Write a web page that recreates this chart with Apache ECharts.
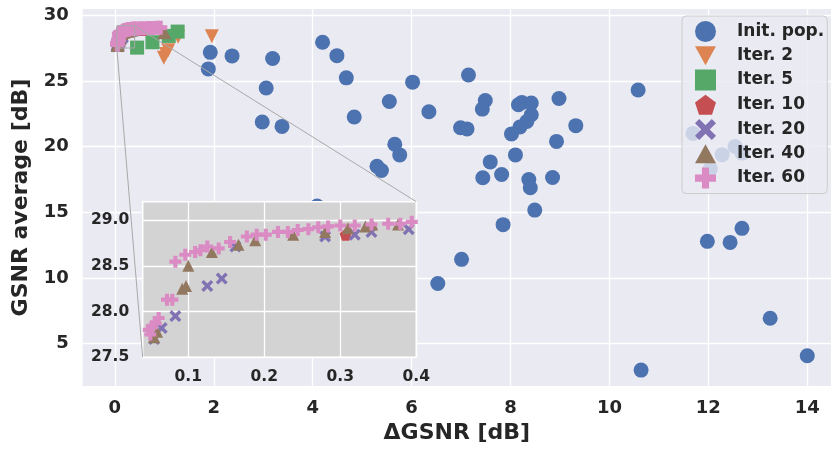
<!DOCTYPE html>
<html>
<head>
<meta charset="utf-8">
<script src="https://cdn.jsdelivr.net/npm/echarts@6/dist/echarts.min.js"></script>
<style>
  html, body { margin: 0; padding: 0; background: #fff; }
  #chart { width: 831px; height: 449px; }
</style>
</head>
<body>
<div id="chart"></div>
<script>
// data [ΔGSNR, GSNR average] ---------------------------------------
const initPop = [
    [1.93, 27.17], [1.89, 25.91], [2.37, 26.9], [3.19, 26.7], [3.06, 24.45], [2.98, 21.87], [3.38, 21.53],
    [4.20, 27.94], [4.49, 26.92], [4.68, 25.23], [6.02, 24.9], [7.15, 25.44], [5.55, 23.43], [4.84, 22.25],
    [6.35, 22.65], [7.49, 23.5], [7.43, 22.85], [6.99, 21.43], [7.12, 21.34], [8.23, 23.36], [8.42, 23.31],
    [8.16, 23.18], [8.42, 22.42], [8.33, 21.91], [8.19, 21.49], [8.02, 20.96], [8.98, 23.66], [9.32, 21.59],
    [8.93, 20.39], [8.10, 19.36], [7.59, 18.83], [7.44, 17.62], [7.82, 17.87], [8.37, 17.49], [8.40, 16.86],
    [8.85, 17.64], [8.49, 15.16], [7.85, 14.05], [7.01, 11.41], [6.53, 9.57], [5.66, 20.17], [5.76, 19.36],
    [5.30, 18.5], [5.39, 18.17], [4.09, 15.47], [10.58, 24.3], [10.64, 2.98], [11.98, 12.78], [12.44, 12.7],
    [12.68, 13.77], [13.25, 6.93], [14.0, 4.07], [11.69, 21.0], [12.28, 19.38], [12.54, 20.0], [12.68, 19.5],
    [12.04, 18.3]
];
const iter2 = [[1.96, 28.4], [1.28, 28.35], [1.08, 27.33], [1.03, 27.05], [0.99, 26.75]];
const iter5 = [[1.27, 28.75], [1.09, 28.42], [0.76, 27.94], [0.45, 27.53]];
const iter10 = [[0.307, 28.84], [0.55, 28.95]];
const iter20 = [
    [0.055, 27.7], [0.065, 27.82], [0.083, 27.95], [0.125, 28.28], [0.144, 28.36], [0.162, 28.71],
    [0.28, 28.82], [0.319, 28.84], [0.341, 28.87], [0.39, 28.9]
];
const iter40 = [
    [0.055, 27.72], [0.059, 27.78], [0.092, 28.25], [0.097, 28.28], [0.10, 28.5], [0.131, 28.65],
    [0.166, 28.73], [0.188, 28.78], [0.238, 28.84], [0.28, 28.87], [0.31, 28.91], [0.333, 28.93],
    [0.342, 28.95], [0.376, 28.95], [1.0, 28.7]
];
const iter60 = [
    [0.048, 27.8], [0.05, 27.75], [0.052, 27.84], [0.057, 27.87], [0.061, 27.93], [0.072, 28.13],
    [0.079, 28.13], [0.083, 28.545], [0.096, 28.62], [0.109, 28.65], [0.116, 28.67], [0.125, 28.71],
    [0.14, 28.69], [0.155, 28.76], [0.177, 28.82], [0.19, 28.84], [0.202, 28.84], [0.218, 28.87],
    [0.231, 28.87], [0.244, 28.89], [0.258, 28.9], [0.271, 28.92], [0.284, 28.93], [0.30, 28.94],
    [0.319, 28.94], [0.341, 28.95], [0.363, 28.96], [0.379, 28.96], [0.394, 28.98],
    [0.45, 28.98], [0.52, 29.0], [0.6, 29.0], [0.68, 29.02], [0.76, 29.03], [0.85, 29.04], [0.92, 29.05]
];

const seriesNames = ['Init. pop.', 'Iter. 2', 'Iter. 5', 'Iter. 10', 'Iter. 20', 'Iter. 40', 'Iter. 60'];
const seriesData = [initPop, iter2, iter5, iter10, iter20, iter40, iter60];
const colors = ['#4C72B0', '#DD8452', '#55A868', '#C44E52', '#8172B3', '#937860', '#DA8BC3'];
const symbols = [
    'circle',
    'path://M0,0L100,0L50,90Z',
    'rect',
    'path://M50,0L97.6,34.5L79.4,90.5L20.6,90.5L2.4,34.5Z',
    'path://M20,0L50,30L80,0L100,20L70,50L100,80L80,100L50,70L20,100L0,80L30,50L0,20Z',
    'path://M50,0L100,90L0,90Z',
    'path://M33,0H67V33H100V67H67V100H33V67H0V33H33Z'
];

const mainXTicks = [0, 2, 4, 6, 8, 10, 12, 14];
const mainYTicks = [5, 10, 15, 20, 25, 30];
const insetXTicks = [0.1, 0.2, 0.3, 0.4];
const insetYTicks = [27.5, 28.0, 28.5, 29.0];
const insetXRange = [0.04, 0.4];
const insetYRange = [27.5, 29.2];

const font = 'DejaVu Sans';
const ink = '#262626';

const chart = echarts.init(document.getElementById('chart'));

const axisCommon = (ticks, fontSize, margin, fmt) => ({
    axisLine: {show: false},
    axisTick: {show: false, customValues: ticks},
    axisLabel: {
        customValues: ticks, color: ink, fontFamily: font, fontWeight: 'bold',
        fontSize: fontSize, margin: margin, formatter: fmt
    },
    splitLine: {show: true, lineStyle: {color: '#ffffff', width: 1.3}}
});

const series = [];
seriesData.forEach((data, i) => {
    series.push({
        name: seriesNames[i], type: 'scatter', xAxisIndex: 0, yAxisIndex: 0,
        data: data, symbol: symbols[i], symbolSize: i === 0 ? 15 : 14,
        itemStyle: {color: colors[i], opacity: 1}, z: 2, animation: false
    });
});
// inset lives on its own layer so it covers the main markers
seriesData.forEach((data, i) => {
    if (i === 0) return;
    series.push({
        name: seriesNames[i], type: 'scatter', xAxisIndex: 1, yAxisIndex: 1,
        data: data, symbol: symbols[i], symbolSize: 12,
        itemStyle: {color: colors[i], opacity: 1}, zlevel: 1, z: 3, clip: true, animation: false
    });
});

chart.setOption({
    animation: false,
    textStyle: {fontFamily: font},
    grid: [
        {left: 82.7, top: 9, right: 0, bottom: 62, show: true, backgroundColor: '#EAEAF2', borderWidth: 0},
        {left: 142.7, top: 201.7, width: 273.6, height: 155.6, show: true, backgroundColor: '#D3D3D3',
            borderColor: '#ffffff', borderWidth: 1.5, zlevel: 1, z: 0}
    ],
    xAxis: [
        Object.assign({
            gridIndex: 0, type: 'value', min: -0.65, max: 14.48,
            name: 'ΔGSNR [dB]', nameLocation: 'middle', nameGap: 35,
            nameTextStyle: {color: ink, fontFamily: font, fontWeight: 'bold', fontSize: 22}
        }, axisCommon(mainXTicks, 18, 13, v => String(v))),
        Object.assign({
            gridIndex: 1, type: 'value', min: insetXRange[0], max: insetXRange[1], zlevel: 1, z: 1
        }, axisCommon(insetXTicks, 15.5, 12, v => v.toFixed(1)))
    ],
    yAxis: [
        Object.assign({
            gridIndex: 0, type: 'value', min: 1.76, max: 30.47,
            name: 'GSNR average [dB]', nameLocation: 'middle', nameGap: 47,
            nameTextStyle: {color: ink, fontFamily: font, fontWeight: 'bold', fontSize: 22}
        }, axisCommon(mainYTicks, 18, 14, v => String(v))),
        Object.assign({
            gridIndex: 1, type: 'value', min: insetYRange[0], max: insetYRange[1], zlevel: 1, z: 1
        }, axisCommon(insetYTicks, 15.5, 13.5, v => v.toFixed(1)))
    ],
    legend: {
        orient: 'vertical', left: 682, top: 16,
        itemWidth: 21, itemHeight: 21, itemGap: 4.3,
        padding: [5, 3, 5, 13],
        backgroundColor: 'rgba(234,234,242,0.8)', borderColor: '#cccccc', borderWidth: 1, borderRadius: 4,
        textStyle: {color: ink, fontFamily: font, fontWeight: 'bold', fontSize: 17, padding: [0, 0, 0, 16]},
        data: seriesNames.map((n, i) => ({name: n, icon: symbols[i]})),
        selectedMode: false
    },
    series: series
});

// zoom indicator and connector lines ---------------------------------
const mBL = chart.convertToPixel({gridIndex: 0}, [insetXRange[0], insetYRange[0]]);
const mTR = chart.convertToPixel({gridIndex: 0}, [insetXRange[1], insetYRange[1]]);
const iBL = chart.convertToPixel({gridIndex: 1}, [insetXRange[0], insetYRange[0]]);
const iTR = chart.convertToPixel({gridIndex: 1}, [insetXRange[1], insetYRange[1]]);
const grayLine = {stroke: '#a8a8a8', lineWidth: 1, fill: null};

chart.setOption({
    graphic: [
        {type: 'rect', zlevel: 1, z: 0, silent: true,
            shape: {x: mBL[0], y: mTR[1], width: mTR[0] - mBL[0], height: mBL[1] - mTR[1]}, style: grayLine},
        {type: 'line', zlevel: 1, z: 0, silent: true,
            shape: {x1: mBL[0], y1: mBL[1], x2: iBL[0], y2: iBL[1]}, style: grayLine},
        {type: 'line', zlevel: 1, z: 0, silent: true,
            shape: {x1: mTR[0], y1: mTR[1], x2: iTR[0], y2: iTR[1]}, style: grayLine}
    ]
});
</script>
</body>
</html>
